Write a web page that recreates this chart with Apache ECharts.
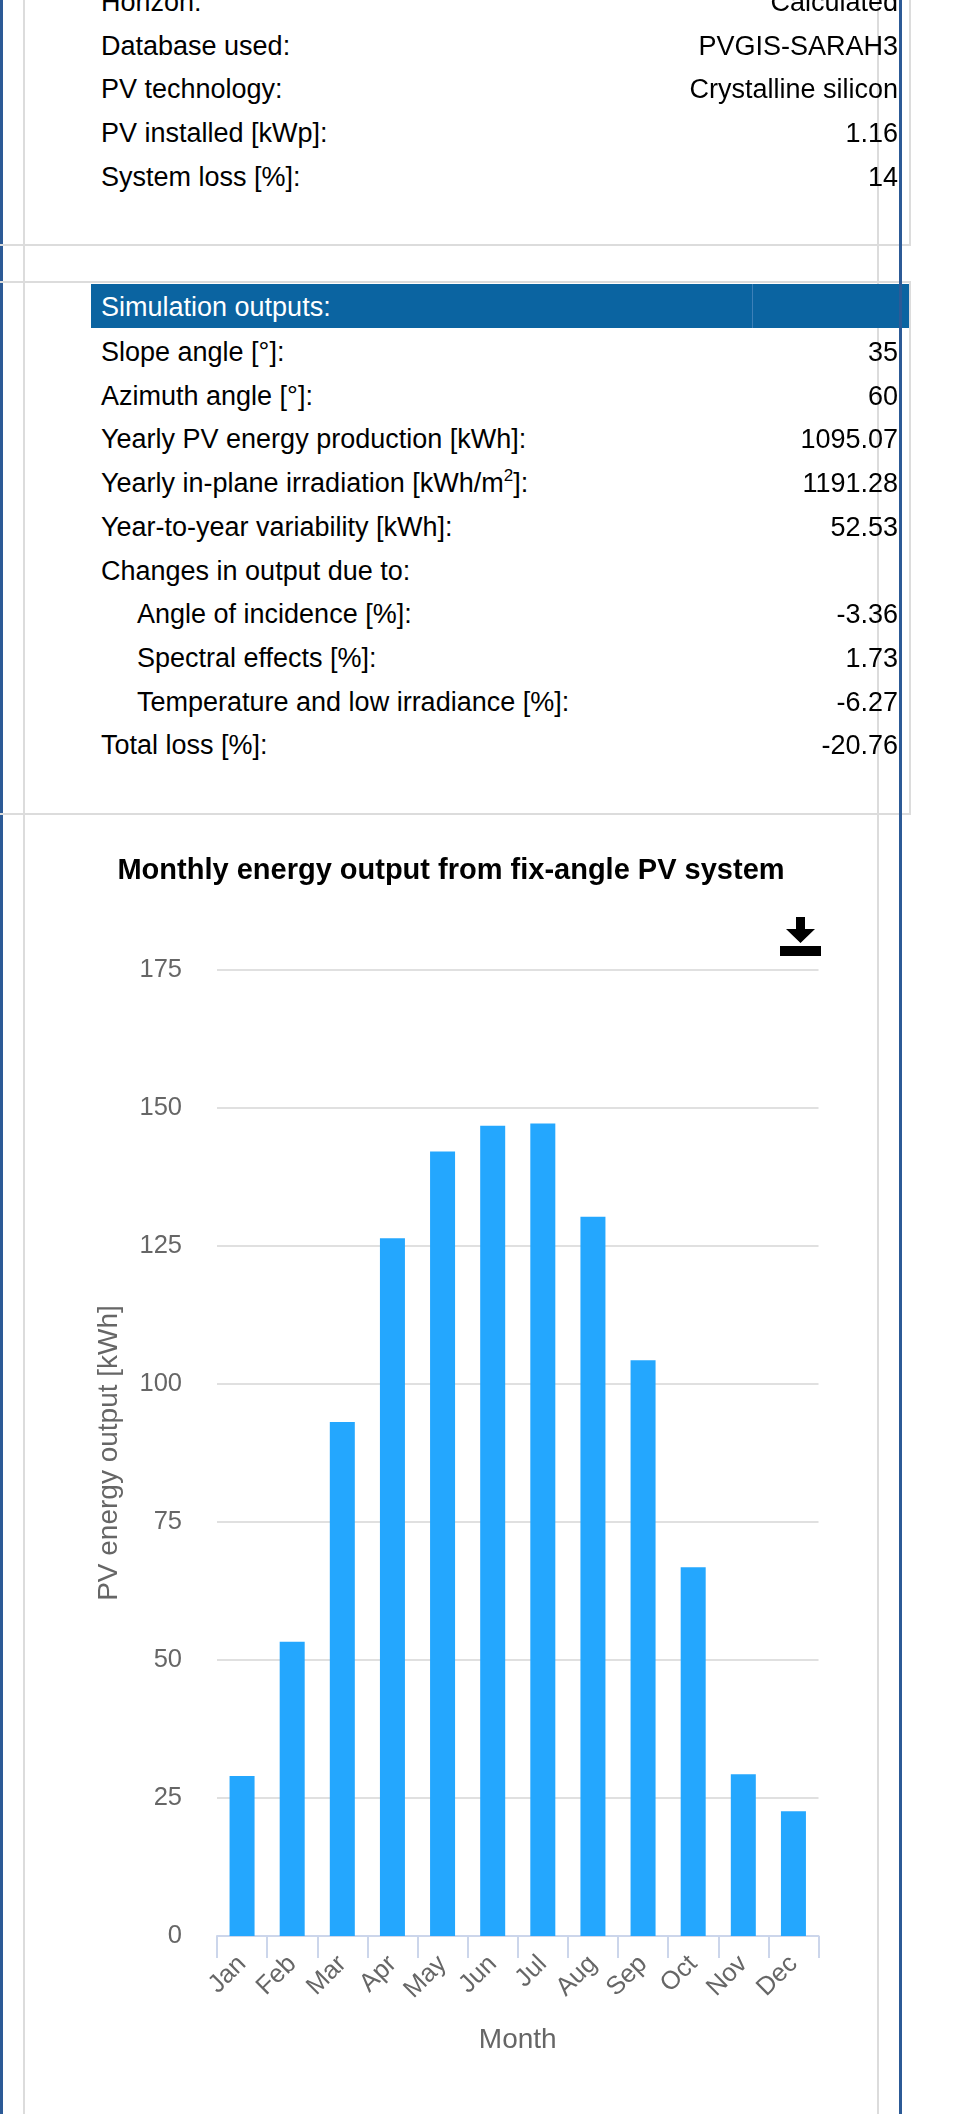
<!DOCTYPE html>
<html>
<head>
<meta charset="utf-8">
<script src="https://cdn.jsdelivr.net/npm/echarts@6/dist/echarts.min.js"></script>
<style>
  html, body { margin: 0; padding: 0; background: #fff; }
  body { width: 955px; height: 2114px; position: relative; overflow: hidden;
         font-family: "Liberation Sans", Arial, Helvetica, sans-serif; }
  .ln { position: absolute; }
  .row { position: absolute; height: 40px; line-height: 40px; font-size: 27px; color: #000; white-space: nowrap; }
  .val { text-align: right; }
  sup { font-size: 17px; line-height: 0; vertical-align: 11px; }
  #chart { position: absolute; left: 24px; top: 815px; width: 854px; height: 1299px; }
</style>
</head>
<body>
<div id="page"></div>
<div id="chart"></div>
<script>
// ---- data ----
const inputLabels = ['Horizon:', 'Database used:', 'PV technology:', 'PV installed [kWp]:', 'System loss [%]:'];
const inputValues = ['Calculated', 'PVGIS-SARAH3', 'Crystalline silicon', '1.16', '14'];
const outputHeader = 'Simulation outputs:';
const outputLabels = ['Slope angle [°]:', 'Azimuth angle [°]:', 'Yearly PV energy production [kWh]:',
  'Yearly in-plane irradiation [kWh/m<sup>2</sup>]:', 'Year-to-year variability [kWh]:',
  'Changes in output due to:', 'Angle of incidence [%]:', 'Spectral effects [%]:',
  'Temperature and low irradiance [%]:', 'Total loss [%]:'];
const outputValues = ['35', '60', '1095.07', '1191.28', '52.53', '', '-3.36', '1.73', '-6.27', '-20.76'];
const outputIndented = [false, false, false, false, false, false, true, true, true, false];

const chartTitle = 'Monthly energy output from fix-angle PV system';
const months = ['Jan', 'Feb', 'Mar', 'Apr', 'May', 'Jun', 'Jul', 'Aug', 'Sep', 'Oct', 'Nov', 'Dec'];
const energy = [29.0, 53.3, 93.1, 126.4, 142.1, 146.8, 147.2, 130.3, 104.3, 66.8, 29.3, 22.6];
const yAxisName = 'PV energy output [kWh]';
const xAxisName = 'Month';

// ---- page frame & tables ----
const page = document.getElementById('page');
function box(l, t, w, h, c, z) {
  const d = document.createElement('div');
  d.className = 'ln';
  d.style.cssText = `left:${l}px;top:${t}px;width:${w}px;height:${h}px;background:${c};z-index:${z||1}`;
  page.appendChild(d);
}
const GRAY = '#dcdcdc', BLUE = '#2c5a96';
box(0, 0, 2.5, 2114, BLUE, 1);
box(23, 0, 2, 2114, GRAY, 1);
box(876.5, 0, 2, 2114, GRAY, 1);
box(899, 0, 2.5, 2114, BLUE, 3);
// top box
box(909, 0, 2, 246, GRAY, 2);
box(0, 244, 911, 2, GRAY, 2);
// second box
box(0, 281, 911, 2, GRAY, 2);
box(909, 281, 2, 534, GRAY, 2);
box(0, 813, 911, 2, GRAY, 2);
// header band
box(91, 283.5, 818, 44, '#0b64a1', 2);
box(752, 283.5, 1, 44, '#3d80b8', 2);

function text(html, left, cy, right, color, z) {
  const d = document.createElement('div');
  d.className = 'row' + (right ? ' val' : '');
  d.innerHTML = html;
  d.style.top = (cy - 20) + 'px';
  if (right) { d.style.right = (955 - right) + 'px'; } else { d.style.left = left + 'px'; }
  d.style.color = color || '#000';
  d.style.zIndex = z || 2;
  page.appendChild(d);
}
inputLabels.forEach((s, i) => {
  const cy = 2 + i * 43.7;
  text(s, 101, cy);
  text(inputValues[i], 0, cy, 898);
});
text(outputHeader, 101, 307, null, '#fff', 4);
outputLabels.forEach((s, i) => {
  const cy = 352 + i * 43.7;
  text(s, outputIndented[i] ? 137 : 101, cy);
  if (outputValues[i]) text(outputValues[i], 0, cy, 898);
});

// ---- chart ----
const chart = echarts.init(document.getElementById('chart'), null, { renderer: 'canvas' });
chart.setOption({
  animation: false,
  title: {
    text: chartTitle,
    left: 'center',
    top: 39,
    padding: 0,
    textStyle: { fontFamily: 'Liberation Sans', fontSize: 29, fontWeight: 'bold', color: '#000', lineHeight: 34 }
  },
  toolbox: {
    left: 756, top: 102, padding: 0, itemSize: 41, itemGap: 0,
    iconStyle: { color: '#000', borderColor: '#000', borderWidth: 0 },
    feature: {
      saveAsImage: {
        title: 'Download',
        icon: 'path://M16,0 L25,0 L25,12 L35,12 L20.5,26 L6,12 L16,12 Z M0,29 L41,29 L41,39 L0,39 Z'
      }
    }
  },
  grid: { left: 193, right: 59.5, top: 155, bottom: 178, containLabel: false },
  xAxis: {
    type: 'category',
    data: months,
    name: xAxisName,
    nameLocation: 'middle',
    nameGap: 90,
    nameTextStyle: { fontFamily: 'Liberation Sans', fontSize: 28, color: '#666' },
    axisLine: { show: true, lineStyle: { color: '#ccd6eb', width: 2 } },
    axisTick: { show: true, alignWithLabel: false, length: 22, lineStyle: { color: '#ccd6eb', width: 2 } },
    axisLabel: { interval: 0, rotate: 45, margin: 24, fontFamily: 'Liberation Sans', fontSize: 25.5, color: '#666' },
    splitLine: { show: false }
  },
  yAxis: {
    type: 'value',
    min: 0, max: 175, interval: 25,
    name: yAxisName,
    nameLocation: 'middle',
    nameGap: 94,
    nameRotate: 90,
    nameTextStyle: { fontFamily: 'Liberation Sans', fontSize: 28, color: '#666' },
    axisLine: { show: false },
    axisTick: { show: false },
    axisLabel: { margin: 35, fontFamily: 'Liberation Sans', fontSize: 25.5, color: '#666' },
    splitLine: { show: true, lineStyle: { color: '#e0e0e0', width: 2 } }
  },
  series: [{
    type: 'bar',
    data: energy,
    barWidth: 25,
    itemStyle: { color: '#24a7fe' },
    z: 2
  }]
});
</script>
</body>
</html>
